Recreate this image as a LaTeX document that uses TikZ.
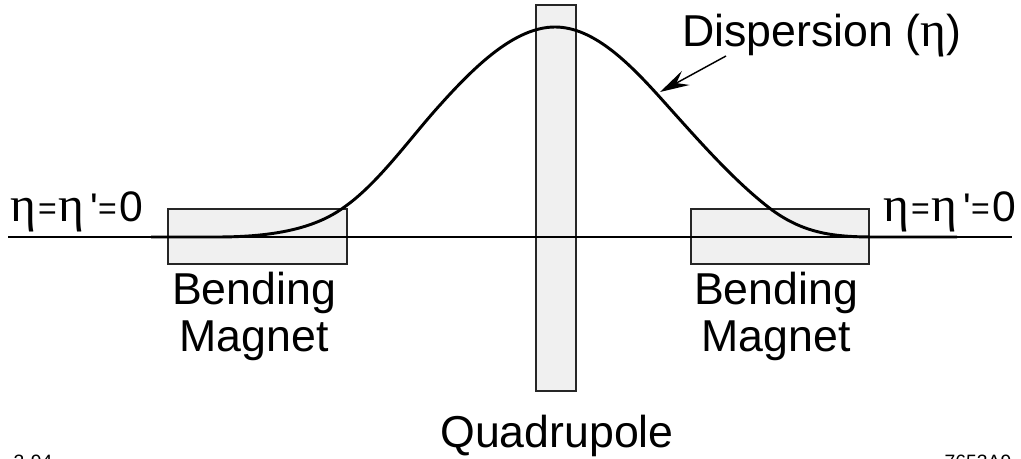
\documentclass[tikz,border=0pt]{standalone}
\usepackage{fontspec}
\setmainfont{Liberation Sans}
\newfontfamily\gr{Liberation Serif}
\newfontfamily\pl{Liberation Sans}
\usetikzlibrary{arrows.meta}
\tikzset{
 x=0.75pt,y=-0.75pt,
 magnet/.style={draw=black!85,fill=black!6,line width=1.2pt},
 lab/.style={inner sep=0pt,font=\fontsize{33.5}{37}\selectfont,align=center},
 tiny/.style={inner sep=0pt,font=\fontsize{14.5}{17}\selectfont},
}
\newcommand{\et}{{\gr\fontsize{37}{38}\selectfont η}}
\newcommand{\eqs}{\raisebox{2pt}{\fontsize{24}{24}\selectfont =}}
\newcommand{\zerolabel}{\et\kern1.5pt\eqs\kern1.5pt\et\kern4.5pt{\pl\fontsize{30}{30}\selectfont '}\eqs\kern1.7pt{\fontsize{32}{32}\selectfont 0}}
\begin{document}
\begin{tikzpicture}
\useasboundingbox (0,0) rectangle (1021,459);
\path[magnet] (536,5) rectangle (576,391);
\path[magnet] (168,209) rectangle (347,264);
\path[magnet] (691,209) rectangle (869,264);
\coordinate (axl) at (8,237); \coordinate (axr) at (1012,237);
\draw[line width=1.2pt] (axl) -- (axr);
\coordinate (cl) at (151,237);
\coordinate (cr) at (957,237);
\draw[line width=2.2pt,line join=round] (cl) -- (217,237)
 .. controls (275,237) and (315,228) .. (343,208)
 .. controls (378,184) and (410,138) .. (440,105)
 .. controls (475,66) and (515,27) .. (555,27)
 .. controls (595,27) and (632,66) .. (665,103)
 .. controls (700,142) and (735,182) .. (772,210)
 .. controls (805,234) and (835,237) .. (875,237) -- (cr);
\coordinate (tip) at (660,92);
\coordinate (tail) at (726,56);
\draw[-{Stealth[length=22pt,width=12pt,inset=8pt]},line width=1.1pt] (tail) -- (tip);
\node[lab,anchor=base west] (d) at (682,47) {Dispersion (\et)};
\node[lab,anchor=base west] (e1) at (10,222) {\zerolabel};
\node[lab,anchor=base west] (e2) at (883,222) {\zerolabel};
\node[lab,anchor=base] (b1) at (254,305) {Bending};
\node[lab,anchor=base] (m1) at (254,352) {Magnet};
\node[lab,anchor=base] (b2) at (776,305) {Bending};
\node[lab,anchor=base] (m2) at (776,352) {Magnet};
\node[lab,anchor=base] (q) at (557,447) {Quadrupole};
\node[tiny,anchor=base] (n1) at (33,469) {3-94};
\node[tiny,anchor=base] (n2) at (978,469) {7653A9};
\end{tikzpicture}
\end{document}
